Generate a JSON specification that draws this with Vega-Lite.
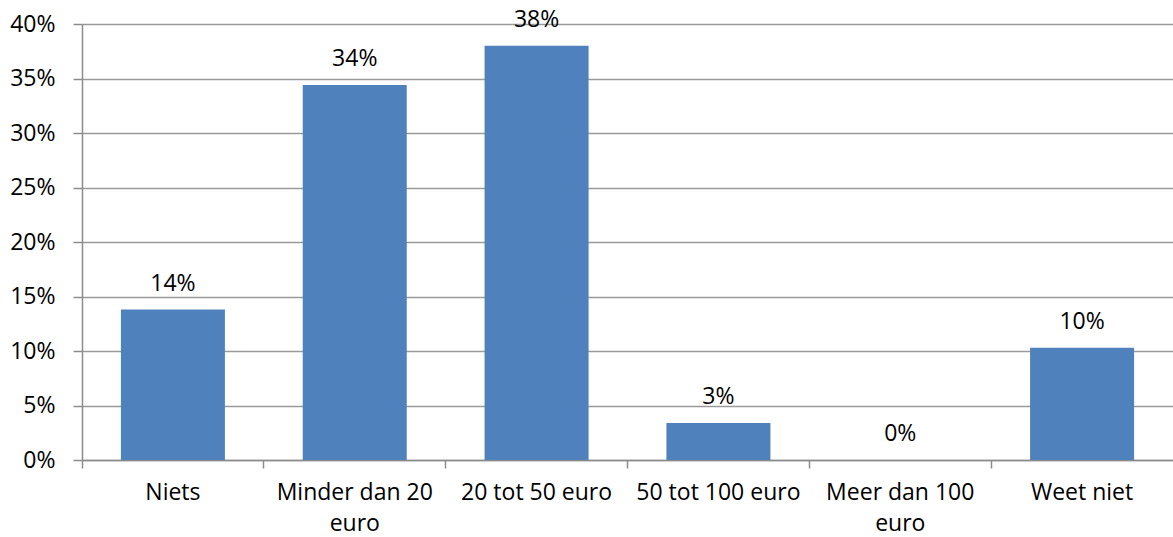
{
  "$schema": "https://vega.github.io/schema/vega-lite/v6.json",
  "width": 1091,
  "height": 436,
  "autosize": {"type": "none"},
  "padding": {"left": 82, "top": 24, "right": 0, "bottom": 77},
  "background": "white",
  "config": {
    "view": {"stroke": null},
    "font": "Open Sans",
    "axis": {"labelFont": "Open Sans", "labelColor": "#000000"}
  },
  "data": {
    "values": [
      {"cat": "Niets", "value": 0.138},
      {"cat": "Minder dan 20 euro", "value": 0.344},
      {"cat": "20 tot 50 euro", "value": 0.380},
      {"cat": "50 tot 100 euro", "value": 0.034},
      {"cat": "Meer dan 100 euro", "value": 0.0},
      {"cat": "Weet niet", "value": 0.103}
    ]
  },
  "encoding": {
    "x": {
      "field": "cat",
      "type": "nominal",
      "sort": null,
      "scale": {"paddingInner": 0, "paddingOuter": 0},
      "axis": {
        "title": null,
        "labelAngle": 0,
        "labelFontSize": 23,
        "labelPadding": 13,
        "labelLineHeight": 31,
        "labelBaseline": "top",
        "labelExpr": "datum.label == 'Minder dan 20 euro' ? ['Minder dan 20', 'euro'] : datum.label == 'Meer dan 100 euro' ? ['Meer dan 100', 'euro'] : datum.label",
        "bandPosition": 0,
        "ticks": true,
        "tickSize": 8,
        "tickColor": "#8c8c8c",
        "tickWidth": 1.5,
        "domainColor": "#8c8c8c",
        "domainWidth": 1.5,
        "grid": false
      }
    },
    "y": {
      "field": "value",
      "type": "quantitative",
      "scale": {"domain": [0, 0.4], "nice": false},
      "axis": {
        "title": null,
        "format": ".0%",
        "values": [0, 0.05, 0.1, 0.15, 0.2, 0.25, 0.3, 0.35, 0.4],
        "labelFontSize": 23,
        "labelPadding": 18,
        "tickSize": 9,
        "tickColor": "#8c8c8c",
        "tickWidth": 1.5,
        "domainColor": "#8c8c8c",
        "domainWidth": 1.5,
        "grid": true,
        "gridColor": "#9a9a9a",
        "gridWidth": 1.5
      }
    }
  },
  "layer": [
    {
      "mark": {"type": "bar", "width": {"band": 0.572}, "color": "#4F81BD"}
    },
    {
      "mark": {"type": "text", "baseline": "middle", "dy": -26, "fontSize": 23, "color": "#000000", "font": "Open Sans"},
      "encoding": {
        "text": {"field": "value", "type": "quantitative", "format": ".0%"}
      }
    }
  ]
}
